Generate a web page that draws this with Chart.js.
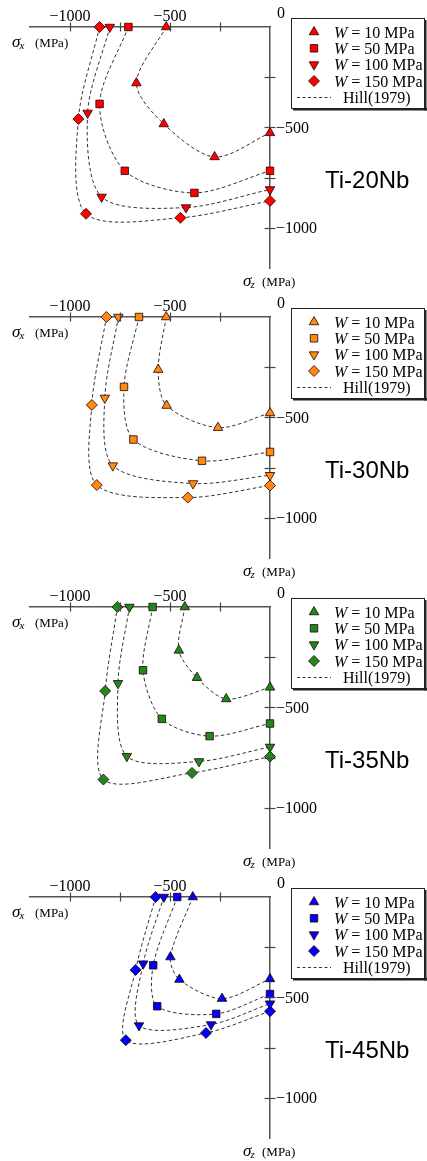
<!DOCTYPE html>
<html><head><meta charset="utf-8">
<script src="https://cdn.jsdelivr.net/npm/chart.js@4.4.0/dist/chart.umd.min.js"></script>
<style>
html,body{margin:0;padding:0;background:#fff;}
.panel{position:relative;width:427px;height:290px;}
canvas{display:block;}
</style></head><body>
<div class="panel"><canvas id="c0" width="427" height="290"></canvas></div>
<div class="panel"><canvas id="c1" width="427" height="290"></canvas></div>
<div class="panel"><canvas id="c2" width="427" height="290"></canvas></div>
<div class="panel"><canvas id="c3" width="427" height="290"></canvas></div>
<script>
// ---------- data ----------
const alloys = ['Ti-20Nb', 'Ti-30Nb', 'Ti-35Nb', 'Ti-45Nb'];
const wValues = [10, 50, 100, 150];               // W in MPa
const panelColors = ['#ff0000', '#ff8a12', '#1d8a1d', '#0000ff'];
const xTickValues = [-1000, -750, -500, -250];
const yTickValues = [-250, -500, -750, -1000];
const labeledTicks = [-1000, -500];
const curveLabel = 'Hill(1979)';

// [sigma_x, sigma_z] in MPa
const ti20_w10  = [[-519, 0], [-668, -279], [-531, -483], [-277, -647], [0, -527]];
const ti20_w50  = [[-708, 0], [-852, -383], [-726, -716], [-378, -826], [0, -716]];
const ti20_w100 = [[-801, 0], [-912, -428], [-842, -846], [-420, -899], [0, -809]];
const ti20_w150 = [[-852, 0], [-958, -458], [-920, -930], [-448, -950], [0, -866]];

const ti30_w10  = [[-519, 0], [-559, -262], [-517, -441], [-260, -551], [0, -478]];
const ti30_w50  = [[-655, 0], [-730, -348], [-683, -610], [-340, -716], [0, -672]];
const ti30_w100 = [[-758, 0], [-826, -403], [-786, -740], [-385, -829], [0, -788]];
const ti30_w150 = [[-818, 0], [-891, -438], [-866, -837], [-411, -899], [0, -839]];

const ti35_w10  = [[-426, 0], [-456, -216], [-365, -352], [-219, -458], [0, -400]];
const ti35_w50  = [[-587, 0], [-635, -315], [-541, -557], [-302, -643], [0, -580]];
const ti35_w100 = [[-703, 0], [-760, -380], [-716, -743], [-355, -769], [0, -697]];
const ti35_w150 = [[-763, 0], [-824, -418], [-833, -859], [-390, -826], [0, -745]];

const ti45_w10  = [[-386, 0], [-498, -299], [-453, -411], [-240, -506], [0, -408]];
const ti45_w50  = [[-464, 0], [-584, -340], [-564, -544], [-269, -582], [0, -483]];
const ti45_w100 = [[-531, 0], [-634, -332], [-655, -640], [-295, -635], [0, -531]];
const ti45_w150 = [[-572, 0], [-672, -363], [-721, -713], [-320, -677], [0, -569]];

const panelSeries = [
  [ti20_w10, ti20_w50, ti20_w100, ti20_w150],
  [ti30_w10, ti30_w50, ti30_w100, ti30_w150],
  [ti35_w10, ti35_w50, ti35_w100, ti35_w150],
  [ti45_w10, ti45_w50, ti45_w100, ti45_w150]
];

// ---------- styles ----------
const markerStyles = [
  {style: 'triangle', rot: 0, r: 5.5},
  {style: 'rect', rot: 0, r: 5.3},
  {style: 'triangle', rot: 180, r: 5.5},
  {style: 'rectRot', rot: 0, r: 5.5}
];
const SERIF = '"Liberation Serif", "Times New Roman", serif';
const SANS = '"Liberation Sans", Arial, sans-serif';

function fmt(v) { return v < 0 ? '\u2212' + Math.abs(v) : String(v); }

function drawMarker(ctx, m, x, y, fill, stroke) {
  ctx.save();
  ctx.beginPath();
  const r = m.r;
  if (m.style === 'triangle') {
    let a = m.rot * Math.PI / 180;
    for (let i = 0; i < 3; i++) {
      const px = x + Math.sin(a) * r, py = y - Math.cos(a) * r;
      if (i === 0) ctx.moveTo(px, py); else ctx.lineTo(px, py);
      a += 2 * Math.PI / 3;
    }
  } else if (m.style === 'rect') {
    const s = r * Math.SQRT1_2;
    ctx.rect(x - s, y - s, 2 * s, 2 * s);
  } else {
    ctx.moveTo(x, y - r); ctx.lineTo(x + r, y); ctx.lineTo(x, y + r); ctx.lineTo(x - r, y);
  }
  ctx.closePath();
  ctx.fillStyle = fill; ctx.fill();
  ctx.lineWidth = 0.8; ctx.strokeStyle = stroke; ctx.stroke();
  ctx.restore();
}

const decorPlugin = {
  id: 'decor',
  afterDraw(chart, args, opts) {
    const ctx = chart.ctx;
    const xs = chart.scales.x, ys = chart.scales.y;
    const ca = chart.chartArea;
    const x0 = xs.getPixelForValue(0), y0 = ys.getPixelForValue(0);
    ctx.save();
    // crossing tick marks
    ctx.strokeStyle = '#444'; ctx.lineWidth = 1.2;
    xTickValues.forEach(v => {
      const px = Math.round(xs.getPixelForValue(v)) + 0.5;
      ctx.beginPath(); ctx.moveTo(px, y0 - 4.5); ctx.lineTo(px, y0 + 4.5); ctx.stroke();
    });
    yTickValues.forEach(v => {
      const py = Math.round(ys.getPixelForValue(v)) + 0.5;
      ctx.beginPath(); ctx.moveTo(x0 - 5.5, py); ctx.lineTo(x0 + 5.5, py); ctx.stroke();
    });
    // tick labels
    ctx.fillStyle = '#000';
    ctx.font = '16px ' + SERIF;
    ctx.textBaseline = 'alphabetic';
    ctx.textAlign = 'center';
    labeledTicks.forEach(v => {
      ctx.fillText(fmt(v), xs.getPixelForValue(v), y0 - 6);
    });
    ctx.fillText('0', x0 + 11, y0 - 9);
    ctx.textAlign = 'left';
    labeledTicks.forEach(v => {
      ctx.fillText(fmt(v), x0 + 6, ys.getPixelForValue(v) + 5.5);
    });
    // axis titles
    let tx = 12, ty = y0 + 20;
    ctx.font = 'italic 17px ' + SERIF;
    ctx.fillText('\u03c3', tx, ty);
    tx += ctx.measureText('\u03c3').width;
    ctx.font = 'italic 11px ' + SERIF;
    ctx.fillText('x', tx - 1, ty + 2);
    ctx.font = '13px ' + SERIF;
    ctx.fillText('(MPa)', 35, ty);
    tx = x0 - 27; ty = ca.bottom + 18;
    ctx.font = 'italic 17px ' + SERIF;
    ctx.fillText('\u03c3', tx, ty);
    tx += ctx.measureText('\u03c3').width;
    ctx.font = 'italic 11px ' + SERIF;
    ctx.fillText('z', tx - 1, ty + 2);
    ctx.font = '13px ' + SERIF;
    ctx.fillText('(MPa)', x0 - 8, ty);
    // legend box
    const bx = 291, by = 18, bw = 133, bh = 90;
    ctx.fillStyle = '#fff';
    ctx.fillRect(bx, by, bw, bh);
    ctx.fillStyle = '#222';
    ctx.fillRect(bx + 2, by + bh, bw + 1, 2.5);
    ctx.fillRect(bx + bw, by + 2, 2.5, bh + 0.5);
    ctx.strokeStyle = '#222'; ctx.lineWidth = 1;
    ctx.strokeRect(bx + 0.5, by + 0.5, bw, bh);
    const rowY = [32, 48.3, 64.6, 81, 97.5];
    wValues.forEach((w, i) => {
      drawMarker(ctx, markerStyles[i], 314, rowY[i], opts.color, '#200');
      ctx.fillStyle = '#000';
      ctx.font = 'italic 16px ' + SERIF;
      ctx.fillText('W', 334, rowY[i] + 5.5);
      const ww = ctx.measureText('W').width;
      ctx.font = '16px ' + SERIF;
      ctx.fillText(' = ' + w + ' MPa', 334 + ww, rowY[i] + 5.5);
    });
    ctx.strokeStyle = '#333'; ctx.lineWidth = 1; ctx.setLineDash([3, 2.5]);
    ctx.beginPath(); ctx.moveTo(297, rowY[4]); ctx.lineTo(331, rowY[4]); ctx.stroke();
    ctx.setLineDash([]);
    ctx.fillStyle = '#000'; ctx.font = '16px ' + SERIF;
    ctx.fillText(curveLabel, 343, rowY[4] + 5.5);
    // alloy label
    ctx.font = '24px ' + SANS;
    ctx.fillText(opts.title, 325, 188);
    ctx.restore();
  }
};

alloys.forEach((alloy, p) => {
  const color = panelColors[p];
  const datasets = panelSeries[p].map((arr, i) => ({
    label: 'W = ' + wValues[i] + ' MPa',
    data: arr.map(([x, y]) => ({x, y})),
    showLine: true,
    tension: 0.3,
    borderColor: '#333',
    borderWidth: 1,
    borderDash: [3.5, 2.5],
    pointStyle: markerStyles[i].style,
    rotation: markerStyles[i].rot,
    pointRadius: markerStyles[i].r,
    pointHoverRadius: markerStyles[i].r,
    pointBackgroundColor: color,
    pointBorderColor: '#200',
    pointBorderWidth: 0.8,
    clip: false
  }));
  new Chart(document.getElementById('c' + p), {
    type: 'scatter',
    data: {datasets},
    plugins: [decorPlugin],
    options: {
      responsive: false,
      animation: false,
      devicePixelRatio: 1,
      events: [],
      layout: {padding: {left: 30, top: 0, right: 0, bottom: 22}},
      plugins: {
        legend: {display: false},
        tooltip: {enabled: false},
        decor: {title: alloy, color}
      },
      scales: {
        x: {
          type: 'linear', position: 'top', min: -1200, max: 0,
          afterFit: s => { s.height = 27; },
          grid: {display: false, drawTicks: false},
          border: {display: true, color: '#555', width: 1.5},
          ticks: {display: false, stepSize: 250}
        },
        y: {
          type: 'linear', position: 'right', min: -1200, max: 0,
          afterFit: s => { s.width = 157; },
          grid: {display: false, drawTicks: false},
          border: {display: true, color: '#555', width: 1.5},
          ticks: {display: false, stepSize: 250}
        }
      }
    }
  });
});
</script>
</body></html>
